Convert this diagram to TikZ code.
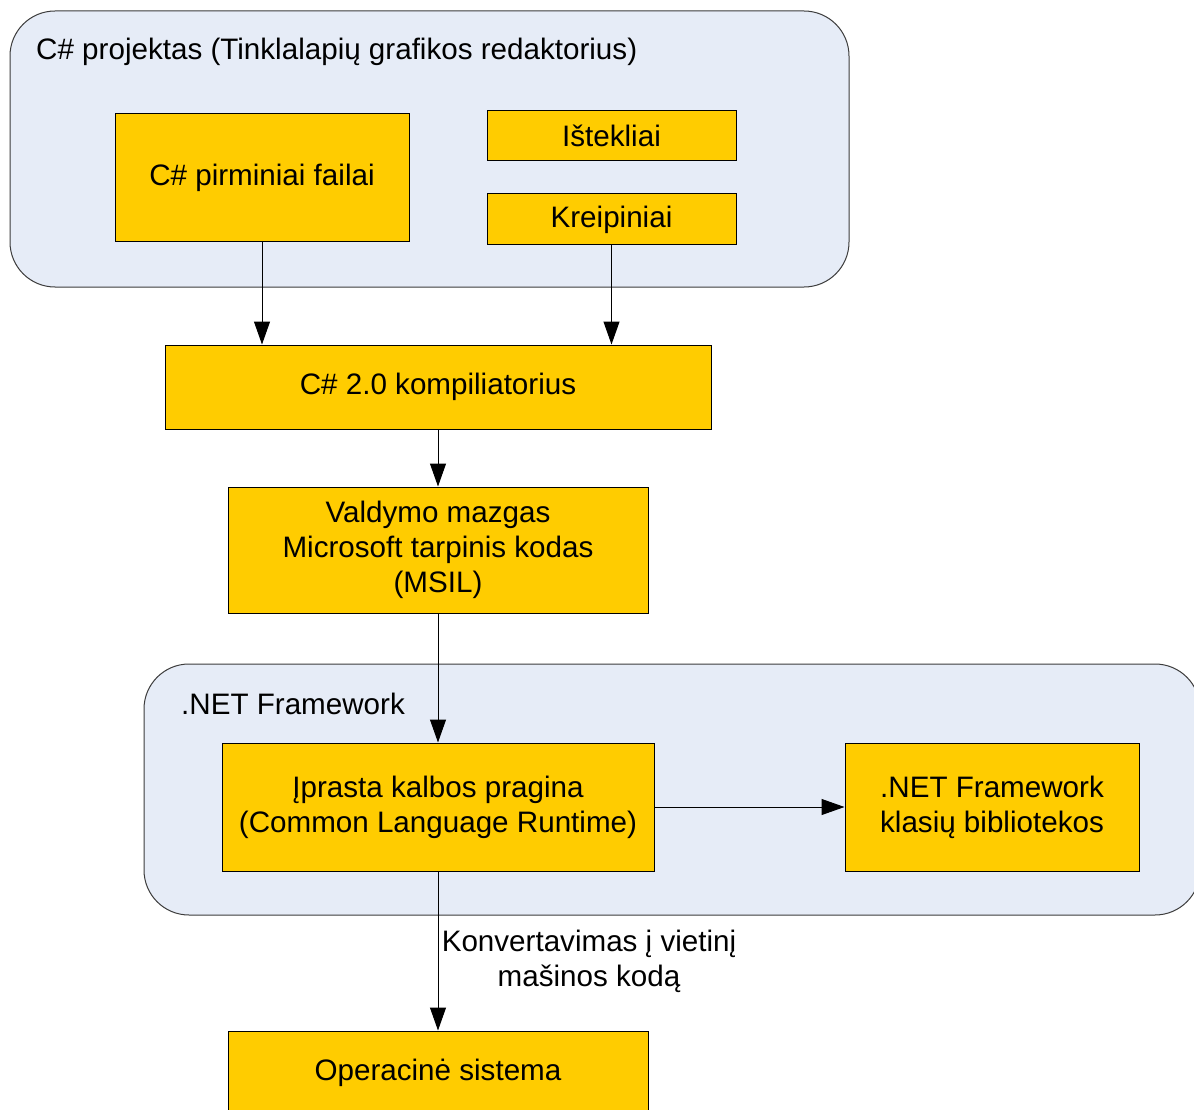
\documentclass[tikz,border=0pt]{standalone}
\usepackage{fontspec}
\setmainfont{Liberation Sans}
\usetikzlibrary{arrows.meta}
\definecolor{groupfill}{RGB}{230,236,247}
\definecolor{boxfill}{RGB}{255,204,0}
\definecolor{groupline}{RGB}{60,60,60}
\begin{document}
\begin{tikzpicture}[x=1pt,y=-1pt,
  font=\fontsize{29.6}{35}\selectfont,
  group/.style={draw=groupline, fill=groupfill, line width=1pt, rounded corners=45pt, inner sep=0pt},
  box/.style={draw=black, fill=boxfill, line width=1pt, align=center, inner sep=0pt},
  arr/.style={draw=black, line width=1pt, -{Triangle[length=23pt,width=16pt]}},
  lbl/.style={align=center, inner sep=0pt}]
\useasboundingbox (0,0) rectangle (1194,1110);
\clip (0,0) rectangle (1194,1110);
\fill[white] (0,0) rectangle (1194,1110);

% project group
\node[group, minimum width=839, minimum height=276] (proj) at (429.5,149) {};
\node[lbl, anchor=west] (projtitle) at (36,52) {C\# projektas (Tinklalapių grafikos redaktorius)};
\node[box, minimum width=294, minimum height=128] (src) at (262,178) {C\# pirminiai failai};
\node[box, minimum width=249, minimum height=50] (res) at (611.5,136) {Ištekliai};
\node[box, minimum width=249, minimum height=51] (refs) at (611.5,219.5) {Kreipiniai};

% compiler and managed module
\node[box, minimum width=546, minimum height=84] (comp) at (438,387) {C\# 2.0 kompiliatorius};
\node[box, minimum width=420, minimum height=126] (msil) at (438,550) {Valdymo mazgas\\Microsoft tarpinis kodas\\(MSIL)};

% .NET Framework group
\node[group, minimum width=1056, minimum height=251] (net) at (672,789.5) {};
\node[lbl, anchor=west] (nettitle) at (181,704) {.NET Framework};
\node[box, minimum width=432, minimum height=128] (clr) at (438,807) {Įprasta kalbos pragina\\(Common Language Runtime)};
\node[box, minimum width=294, minimum height=128] (lib) at (992,807) {.NET Framework\\klasių bibliotekos};

% operating system
\node[box, minimum width=420, minimum height=84] (os) at (438,1073) {Operacinė sistema};
\node[lbl] (conv) at (589,961) {Konvertavimas į vietinį\\mašinos kodą};

% connectors
\draw[arr] (src.south) -- (src.south |- comp.north);
\draw[arr] (refs.south) -- (refs.south |- comp.north);
\draw[arr] (comp.south) -- (msil.north);
\draw[arr] (msil.south) -- (clr.north);
\draw[arr] (clr.east) -- (lib.west);
\draw[arr] (clr.south) -- (os.north);
\end{tikzpicture}
\end{document}
